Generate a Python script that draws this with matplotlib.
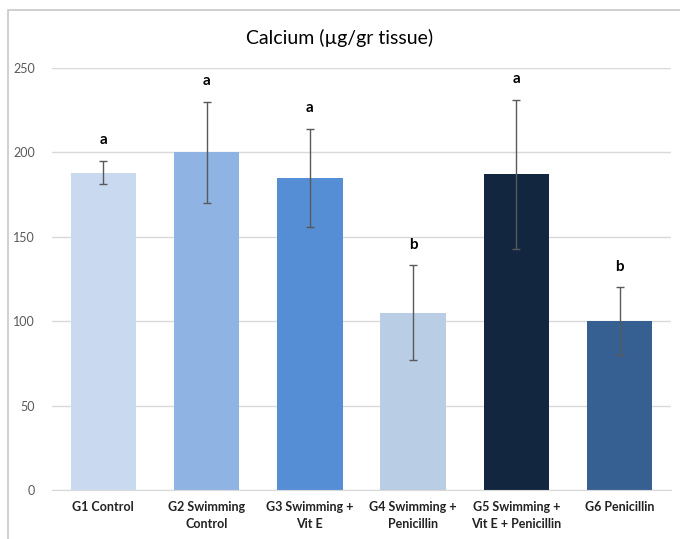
import numpy as np
import matplotlib.pyplot as plt
from matplotlib.patches import Rectangle

# Données
groupes = ["G1 Control", "G2 Swimming\nControl", "G3 Swimming +\nVit E",
           "G4 Swimming +\nPenicillin", "G5 Swimming +\nVit E + Penicillin", "G6 Penicillin"]
calcium = [188, 200, 185, 105, 187, 100]
erreurs = [7, 30, 29, 28, 44, 20]
lettres = ["a", "a", "a", "b", "a", "b"]
couleurs = ["#C9D9F0", "#8FB4E3", "#558ED5", "#B9CDE5", "#12263F", "#376092"]

plt.rcParams['font.family'] = ['Lato', 'DejaVu Sans']

fig = plt.figure(figsize=(6.8, 5.39), dpi=100)
ax = fig.add_axes([0.076, 0.091, 0.911, 0.783])

x = np.arange(len(groupes))
ax.bar(x, calcium, width=0.635, color=couleurs, zorder=2)
ax.errorbar(x, calcium, yerr=erreurs, fmt='none', ecolor="#595959",
            elinewidth=1, capsize=3, capthick=1, zorder=3)

# Lettres de significativité
for xi, m, e, l in zip(x, calcium, erreurs, lettres):
    ax.text(xi, m + e + 8, l, ha='center', va='bottom', fontsize=11,
            fontweight='bold', color='black')

ax.set_xlim(-0.5, len(groupes) - 0.5)
ax.set_ylim(0, 250)
ax.set_yticks(range(0, 251, 50))
ax.set_xticks(x)
ax.set_xticklabels(groupes, fontsize=9, fontweight='bold', color='#222222',
                   linespacing=1.45, va='top')
ax.tick_params(axis='y', length=0, labelsize=9, labelcolor='#595959', pad=12)
ax.tick_params(axis='x', length=0, pad=8)
ax.grid(axis='y', color='#D9D9D9', linewidth=1, zorder=0)
for s in ['top', 'right', 'left']:
    ax.spines[s].set_visible(False)
ax.spines['bottom'].set_color('#D9D9D9')

fig.text(0.5, 0.93, "Calcium (µg/gr tissue)", ha='center', va='center',
         fontsize=14, color='black')

# Cadre du graphique
fig.patches.append(Rectangle((0.012, -0.05), 1.1, 1.032, transform=fig.transFigure,
                             fill=False, edgecolor='#C8C8C8', linewidth=1.2))

fig.savefig("out.png", dpi=100)
